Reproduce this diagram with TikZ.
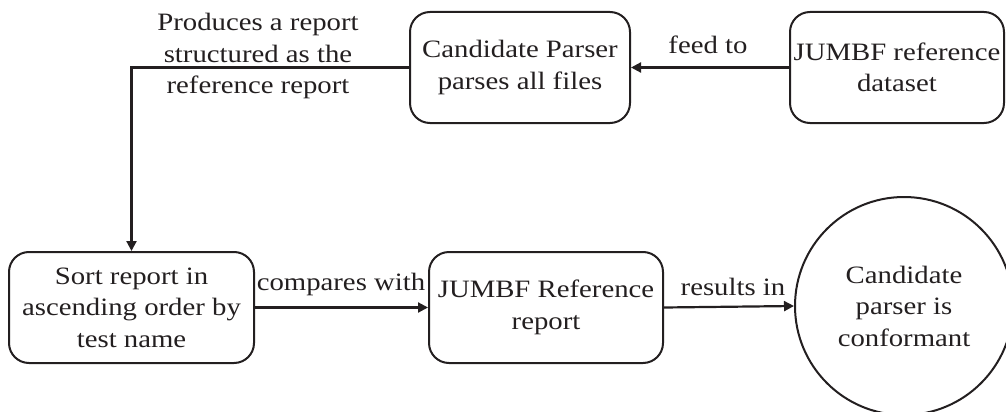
\documentclass[tikz,border=0pt]{standalone}
\usepackage{fontspec}
\setmainfont[FakeStretch=1.15]{Liberation Serif}
\usetikzlibrary{arrows.meta}
\tikzset{
  stage/.style={draw, rounded corners=20pt, line width=2pt, align=center,
    inner sep=0pt},
  verdictnode/.style={draw, circle, line width=2pt, align=center, inner sep=0pt},
  flow/.style={line width=2.2pt, -{Triangle[length=10pt,width=10pt]}},
  tag/.style={align=center, inner sep=0pt}
}
\begin{document}
\begin{tikzpicture}[x=1pt, y=-1pt, font=\fontsize{25}{31.5}\selectfont,
  color={rgb,255:red,35;green,31;blue,32}]
  \useasboundingbox (0,0) rectangle (1006,412);
  % Les boites
  \node [stage, minimum width=220pt, minimum height=111pt] (parser) at (520, 67.5) {Candidate Parser\\parses all files};
  \node [stage, minimum width=214pt, minimum height=111pt] (dataset) at (897, 67.5) {JUMBF reference\\dataset};
  \node [stage, minimum width=245pt, minimum height=111pt] (sorter) at (131.5, 307.5) {Sort report in\\ascending order by\\test name};
  \node [stage, minimum width=234pt, minimum height=111pt] (reference) at (546, 307.5) {JUMBF Reference\\report};
  \node [verdictnode, minimum size=218pt] (verdict) at (904, 306) {Candidate\\parser is\\conformant};
  % Les fleches
  \draw [flow] (dataset.west) -- (parser.east);
  \draw [flow] (parser.west) -| (sorter.north);
  \draw [flow] (sorter.east) -- (reference.west);
  \draw [flow] (reference.east) -- (verdict.west);
  % Les etiquettes
  \node [tag] (feedtag) at (708, 45) {feed to};
  \node [tag] (producetag) at (258, 56) {Produces a report\\structured as the\\reference report};
  \node [tag] (comparetag) at (341, 284) {compares with};
  \node [tag] (resulttag) at (733, 287) {results in};
\end{tikzpicture}
\end{document}
